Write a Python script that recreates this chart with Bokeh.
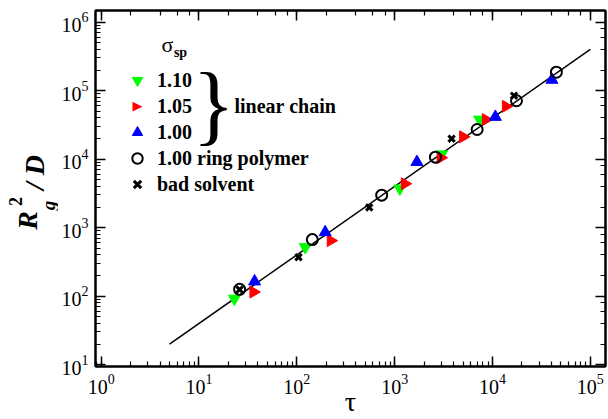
from math import pi
from bokeh.plotting import figure
from bokeh.layouts import row
from bokeh.models import (Label, Legend, LegendItem, LogAxis, LogTicker, Range1d,
                          CustomJSTickFormatter)
from bokeh.embed import file_html
from bokeh.resources import INLINE

# ---- data ----
tau_110 = [23, 122, 1130, 3020, 7400]
rg_110 = [92, 520, 3730, 11750, 37850]

tau_105 = [36, 222, 1270, 2950, 5010, 8550, 13700]
rg_105 = [115, 647, 4380, 10500, 21200, 37850, 59000]

tau_100 = [37, 195, 1690, 10700, 40500]
rg_100 = [164, 857, 9080, 41400, 144000]

tau_ring = [26, 144, 737, 2610, 6970, 17600, 45000]
rg_ring = [126, 670, 2985, 10700, 27100, 71300, 186000]

tau_bad = [26, 104, 550, 3820, 16600]
rg_bad = [125, 371, 1977, 19900, 84300]

fit_tau = [5, 1e5]
fit_rg = [20, 4e5]

legend_labels = ["1.10", "1.05", "1.00", "1.00 ring polymer", "bad solvent"]

FONT = "Liberation Serif"
H = 419
LW = 58  # width of the strip holding the y-axis title

# ---------------- main plot ----------------
p = figure(width=607 - LW, height=H, x_axis_type="log", y_axis_type="log",
           x_range=Range1d(0.875, 1.43e5), y_range=Range1d(9.4, 1.48e6),
           output_backend="svg", toolbar_location=None,
           min_border_left=95 - LW, min_border_right=2, min_border_top=10,
           min_border_bottom=51)

p.xgrid.visible = False
p.ygrid.visible = False
p.outline_line_color = "black"
p.outline_line_width = 2
p.background_fill_color = "white"
p.border_fill_color = "white"

def style_axis(ax, labels=True):
    ax.axis_line_width = 2
    ax.axis_line_color = "black"
    ax.major_tick_in = 10
    ax.major_tick_out = 0
    ax.minor_tick_in = 5
    ax.minor_tick_out = 0
    ax.major_tick_line_width = 1.5
    ax.minor_tick_line_width = 1.2
    ax.major_label_text_font = FONT
    ax.major_label_text_font_size = "20px"
    ax.major_label_text_color = "black"
    if not labels:
        ax.formatter = CustomJSTickFormatter(code="return ''")
        ax.major_label_standoff = 0

style_axis(p.xaxis[0])
style_axis(p.yaxis[0])
p.xaxis[0].major_label_standoff = 7
p.yaxis[0].major_label_standoff = 7

xa = p.xaxis[0]
xa.axis_label = "τ"
xa.axis_label_text_font = FONT
xa.axis_label_text_font_size = "28px"
xa.axis_label_text_font_style = "normal"
xa.axis_label_text_color = "black"
xa.axis_label_standoff = -11

top = LogAxis(ticker=LogTicker())
right = LogAxis(ticker=LogTicker())
style_axis(top, labels=False)
style_axis(right, labels=False)
p.add_layout(top, "above")
p.add_layout(right, "right")

# fit line
p.line(fit_tau, fit_rg, line_color="black", line_width=1.5)

r110 = p.scatter(tau_110, rg_110, marker="inverted_triangle", size=12,
                 fill_color="#00ff00", line_color="#00ff00")
r105 = p.scatter(tau_105, rg_105, marker="triangle", angle=-pi / 2, size=12,
                 fill_color="#ff0000", line_color="#ff0000")
r100 = p.scatter(tau_100, rg_100, marker="triangle", size=12,
                 fill_color="#0000ff", line_color="#0000ff")
rring = p.scatter(tau_ring, rg_ring, marker="circle", size=11,
                  fill_color=None, line_color="black", line_width=2)
rbad = p.scatter(tau_bad, rg_bad, marker="x", size=9,
                 line_color="black", line_width=3)

# legend glyph for 1.05 drawn as a right-pointing triangle label (legend ignores angle)
r105_leg = p.text(x=[], y=[], text=[])

legend = Legend(items=[LegendItem(label=l, renderers=[r]) for l, r in
                       zip(legend_labels, [r110, r105_leg, r100, rring, rbad])],
                location=(28, 169), padding=0, margin=0, spacing=0,
                glyph_width=28, glyph_height=26, label_height=26,
                label_standoff=6, border_line_color=None,
                background_fill_alpha=0,
                label_text_font=FONT, label_text_font_style="bold",
                label_text_font_size="20px", label_text_color="black")
p.add_layout(legend, "center")

def lab(fig, text, x, y, size, style="bold", angle=0, align="center",
        baseline="middle", color="black", font=FONT):
    fig.add_layout(Label(x=x, y=y, x_units="canvas", y_units="canvas", text=text,
                         text_font=font, text_font_size=size, text_font_style=style,
                         angle=angle, text_align=align, text_baseline=baseline,
                         text_color=color))

lab(p, "▶", 137 - LW, 105, "13px", style="normal", color="#ff0000", font="DejaVu Sans")

# legend title sigma_sp, brace and "linear chain" (canvas of main plot)
lab(p, "σ", 167 - LW, 44, "22px", style="normal")
lab(p, "sp", 180 - LW, 52, "14px")
lab(p, "}", 213 - LW, 104, "88px", style="normal")
lab(p, "linear chain", 234 - LW, 105, "20px", align="left")

# ---------------- y-axis title strip ----------------
yl = figure(width=LW, height=H, x_range=Range1d(0, LW), y_range=Range1d(0, H),
            output_backend="svg", toolbar_location=None, min_border=0,
            x_axis_location=None, y_axis_location=None)
yl.xgrid.visible = False
yl.ygrid.visible = False
yl.outline_line_color = None
yl.background_fill_color = "white"
yl.border_fill_color = "white"

lab(yl, "R", 27, 220, "28px", style="bold italic", angle=pi / 2)
lab(yl, "g", 48, 205, "19px", style="bold italic", angle=pi / 2)
lab(yl, "2", 15, 201, "18px", style="bold", angle=pi / 2)
lab(yl, "/ D", 34, 172, "28px", style="bold italic", angle=pi / 2)

layout = row(yl, p, spacing=0)
open("out.html", "w").write(file_html(layout, INLINE))
